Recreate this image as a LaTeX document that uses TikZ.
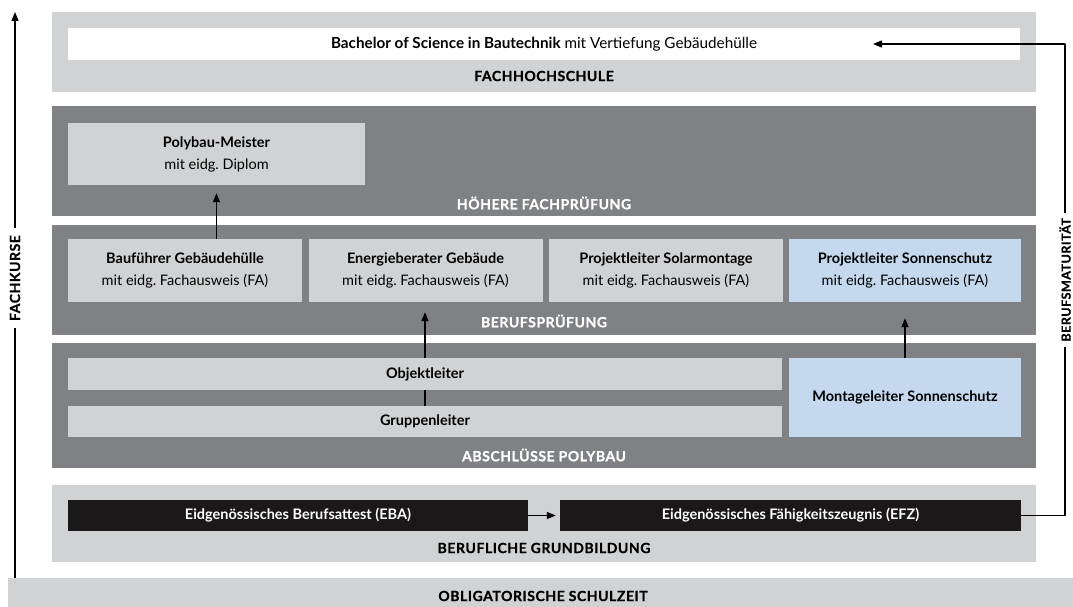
\documentclass[tikz,border=0pt]{standalone}
\usepackage{fontspec}
\setmainfont{Lato}
\newfontfamily\sperrschrift{Lato}[LetterSpace=4, FakeBold=0.8]
\usetikzlibrary{positioning,arrows.meta}
\definecolor{hellgrau}{HTML}{D1D2D4}
\definecolor{dunkelgrau}{HTML}{808184}
\definecolor{hellblau}{HTML}{C5D9EE}
\definecolor{tiefschwarz}{HTML}{1B1819}
\frenchspacing
\begin{document}
\begin{tikzpicture}[x=1pt, y=-1pt, line join=round, >={Triangle[length=9pt,width=7pt]},
		kasten/.style={fill=#1, inner sep=0pt, align=center, font=\fontsize{14.5}{22}\selectfont},
		fett/.style={font=\bfseries\fontsize{14.5}{22}\selectfont},
		titel/.style={font=\sperrschrift\bfseries\fontsize{14}{14}\selectfont, text=#1},
		pfeil/.style={->, line width=1.4pt, shorten >=#1}]
	\useasboundingbox (0,0) rectangle (1073,607);
	\fill[hellgrau] (52,12) rectangle (1036,92);
	\fill[dunkelgrau] (52,106) rectangle (1036,216);
	\fill[dunkelgrau] (52,225) rectangle (1036,335);
	\fill[dunkelgrau] (52,343) rectangle (1036,468);
	\fill[hellgrau] (52,485) rectangle (1036,562);
	\fill[hellgrau] (8,578) rectangle (1073,607);
	\node[kasten=white, minimum width=952, minimum height=32, font=\fontsize{15.25}{22}\selectfont] (bsc) at (544,44) {\textbf{Bachelor of Science in Bautechnik} mit Vertiefung Gebäudehülle};
	\node[titel=black] (fh) at (544,76) {FACHHOCHSCHULE};
	\node[kasten=hellgrau, minimum width=297, minimum height=62] (meister) at (216.5,154) {\textbf{Polybau-Meister}\\mit eidg. Diplom};
	\node[titel=white] (hfp) at (544,203) {HÖHERE FACHPRÜFUNG};
	\foreach \n/\t [count=\i from 0] in {bf/Bauführer Gebäudehülle, eb/Energieberater Gebäude, ps/Projektleiter Solarmontage}
		\node[kasten=hellgrau, minimum width=234, minimum height=63] (\n) at (185+\i*240.5,270.5) {\textbf{\t}\\mit eidg. Fachausweis (FA)};
	\node[kasten=hellblau, minimum width=232, minimum height=63] (pso) at (905,270.5) {\textbf{Projektleiter Sonnenschutz}\\mit eidg. Fachausweis (FA)};
	\node[titel=white] (bp) at (544,321) {BERUFSPRÜFUNG};
	\node[kasten=hellgrau, minimum width=714, minimum height=32, fett] (obj) at (425,374) {Objektleiter};
	\node[kasten=hellgrau, minimum width=714, minimum height=31, fett] (grp) at (425,421.5) {Gruppenleiter};
	\node[kasten=hellblau, minimum width=232, minimum height=79, fett] (mont) at (905,397.5) {Montageleiter Sonnenschutz};
	\node[titel=white] (ap) at (544,455) {ABSCHLÜSSE POLYBAU};
	\node[kasten=tiefschwarz, text=white, minimum width=460, minimum height=31, fett] (eba) at (298,515.5) {Eidgenössisches Berufsattest (EBA)};
	\node[kasten=tiefschwarz, text=white, minimum width=461, minimum height=31, fett] (efz) at (790.5,515.5) {Eidgenössisches Fähigkeitszeugnis (EFZ)};
	\node[titel=black] (bg) at (544,548) {BERUFLICHE GRUNDBILDUNG};
	\node[titel=black] (os) at (543,596) {OBLIGATORISCHE SCHULZEIT};
	\coordinate (fkunten) at (15,578);
	\coordinate (fkoben) at (15,12);
	\coordinate (bmecke) at (1065,515.5);
	\coordinate (bmziel) at (873,44);
	\draw[pfeil=8pt] (bf.north -| meister.south) -- (meister.south);
	\draw[line width=1.4pt] (grp.north) -- (obj.south);
	\draw[pfeil=10pt] (obj.north) -- (obj.north |- eb.south);
	\draw[pfeil=16pt] (mont.north) -- (mont.north |- pso.south);
	\draw[pfeil=4pt] (eba.east) -- (efz.west);
	\draw[pfeil=0pt] (efz.east) -- (bmecke) -- node[fill=white, rotate=90, titel=black, inner sep=5pt, font=\sperrschrift\bfseries\fontsize{12.5}{14}\selectfont] (bm) {BERUFSMATURITÄT} (bmecke |- bmziel) -- (bmziel);
	\draw[pfeil=0pt] (fkunten) -- node[pos=0.53, fill=white, rotate=90, titel=black, inner sep=7pt] (fk) {FACHKURSE} (fkoben);
\end{tikzpicture}
\end{document}
